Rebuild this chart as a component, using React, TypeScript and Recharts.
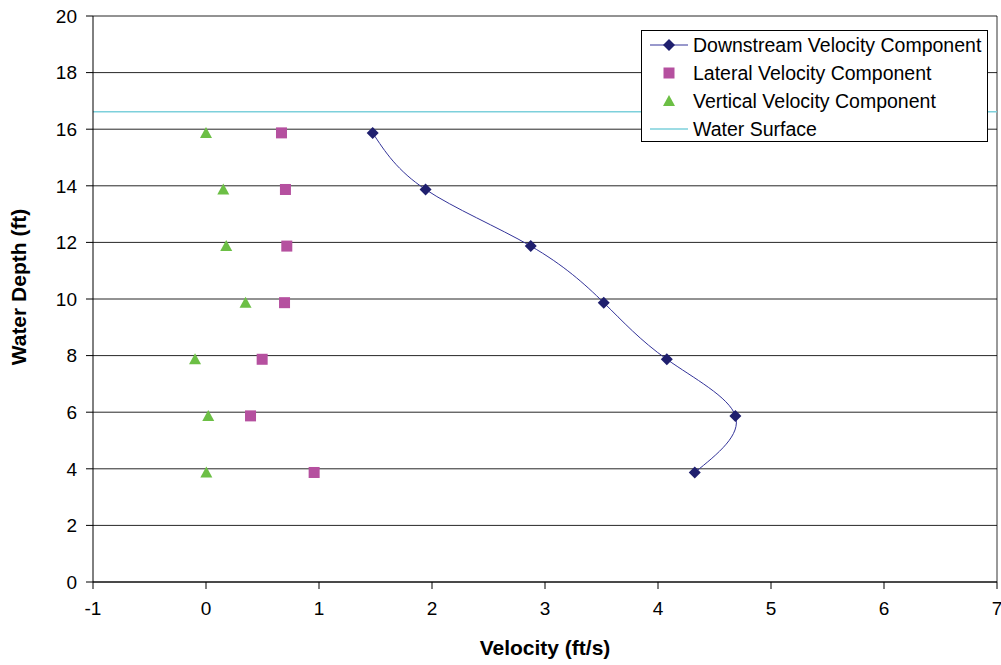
import { ScatterChart, Scatter, XAxis, YAxis, CartesianGrid, ReferenceLine, Legend } from 'recharts';

// depth (ft) of each measurement point
const depths = [15.87, 13.87, 11.87, 9.87, 7.87, 5.87, 3.87];
// velocity components (ft/s)
const downstream = [1.475, 1.943, 2.874, 3.52, 4.078, 4.685, 4.325];
const lateral = [0.668, 0.703, 0.715, 0.695, 0.497, 0.394, 0.957];
const vertical = [0.0, 0.153, 0.179, 0.35, -0.097, 0.02, 0.003];
const waterSurface = 16.62;

const xTicks = [-1, 0, 1, 2, 3, 4, 5, 6, 7];
const yTicks = [0, 2, 4, 6, 8, 10, 12, 14, 16, 18, 20];

const FONT = '"Liberation Sans", Arial, sans-serif';
const NAVY = '#1f1f6e';
const MAGENTA = '#b5509f';
const GREEN = '#6cbf45';
const CYAN = '#7dd0db';

const toPoints = (vals: number[]) => vals.map((v, i) => ({ x: v, y: depths[i] }));
const downData = toPoints(downstream);
const latData = toPoints(lateral);
const vertData = toPoints(vertical);

const Diamond = (p: any) => (
  <path d={`M${p.cx},${p.cy - 6}L${p.cx + 6},${p.cy}L${p.cx},${p.cy + 6}L${p.cx - 6},${p.cy}Z`} fill={NAVY} />
);
const Square = (p: any) => <rect x={p.cx - 5.5} y={p.cy - 5.5} width={11} height={11} fill={MAGENTA} />;
const Triangle = (p: any) => (
  <path d={`M${p.cx},${p.cy - 6}L${p.cx + 6},${p.cy + 5}L${p.cx - 6},${p.cy + 5}Z`} fill={GREEN} />
);

const legendRows = [
  { name: 'Downstream Velocity Component', kind: 'diamond' },
  { name: 'Lateral Velocity Component', kind: 'square' },
  { name: 'Vertical Velocity Component', kind: 'triangle' },
  { name: 'Water Surface', kind: 'line' },
];

function LegendBox() {
  return (
    <div
      style={{
        width: 345,
        height: 110,
        border: '1px solid #000',
        background: '#fff',
        fontFamily: FONT,
        fontSize: 19.5,
        color: '#000',
      }}
    >
      {legendRows.map(r => (
        <div key={r.name} style={{ height: 28, display: 'flex', alignItems: 'center' }}>
          <svg width={51} height={28} style={{ flex: 'none' }}>
            {r.kind === 'diamond' && (
              <>
                <line x1={8} x2={46} y1={14} y2={14} stroke="#333399" />
                <Diamond cx={27} cy={14} />
              </>
            )}
            {r.kind === 'square' && <Square cx={27} cy={14} />}
            {r.kind === 'triangle' && <Triangle cx={27} cy={14} />}
            {r.kind === 'line' && <line x1={8} x2={46} y1={14} y2={14} stroke={CYAN} strokeWidth={1.5} />}
          </svg>
          <span style={{ whiteSpace: 'nowrap' }}>{r.name}</span>
        </div>
      ))}
    </div>
  );
}

export default function App() {
  return (
    <div style={{ position: 'absolute', left: 0, top: 0, background: '#fff' }}>
      <ScatterChart width={1001} height={665} margin={{ top: 16, right: 4, bottom: 23, left: 0 }}>
        <CartesianGrid vertical={false} stroke="#000" strokeOpacity={0.85} />
        <XAxis
          type="number"
          dataKey="x"
          domain={[-1, 7]}
          ticks={xTicks}
          interval={0}
          height={60}
          stroke="#000"
          tickSize={7}
          tickMargin={13}
          tick={{ fill: '#000', fontSize: 19, fontFamily: FONT }}
          label={{
            content: () => (
              <text x={545} y={655} textAnchor="middle" fontFamily={FONT} fontSize={21} fontWeight="bold" fill="#000">
                Velocity (ft/s)
              </text>
            ),
          }}
        />
        <YAxis
          type="number"
          dataKey="y"
          domain={[0, 20]}
          ticks={yTicks}
          interval={0}
          width={93}
          stroke="#000"
          tickSize={7}
          tickMargin={9}
          tick={{ fill: '#000', fontSize: 19, fontFamily: FONT }}
          label={{
            content: () => (
              <text
                x={26}
                y={287}
                transform="rotate(-90 26 287)"
                textAnchor="middle"
                fontFamily={FONT}
                fontSize={21}
                fontWeight="bold"
                fill="#000"
              >
                Water Depth (ft)
              </text>
            ),
          }}
        />
        <ReferenceLine x={7} stroke="#000" strokeOpacity={0.8} />
        <ReferenceLine y={waterSurface} stroke={CYAN} strokeWidth={1.5} />
        <Scatter
          name="Downstream Velocity Component"
          data={downData}
          fill={NAVY}
          line={{ stroke: '#333399', strokeWidth: 1 }}
          lineType="joint"
          lineJointType="natural"
          shape={Diamond}
          isAnimationActive={false}
        />
        <Scatter name="Lateral Velocity Component" data={latData} fill={MAGENTA} shape={Square} isAnimationActive={false} />
        <Scatter name="Vertical Velocity Component" data={vertData} fill={GREEN} shape={Triangle} isAnimationActive={false} />
        <Legend
          layout="vertical"
          align="center"
          verticalAlign="middle"
          content={() => <LegendBox />}
          wrapperStyle={{ position: 'absolute', left: 641, top: 30, width: 347, height: 112 }}
        />
      </ScatterChart>
    </div>
  );
}
